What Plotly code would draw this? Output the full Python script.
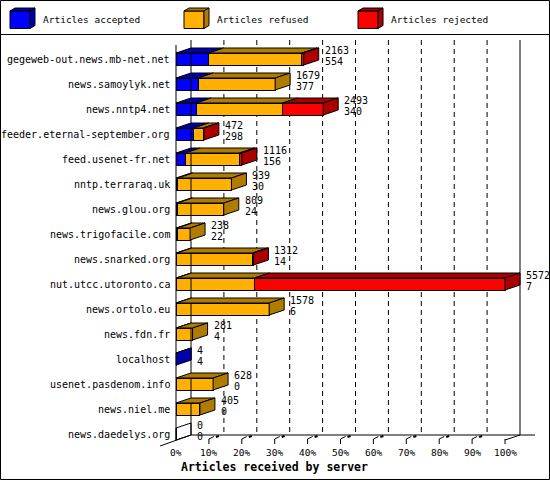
import plotly.graph_objects as go

# servers, top to bottom
servers = ['gegeweb-out.news.mb-net.net', 'news.samoylyk.net', 'news.nntp4.net',
           'feeder.eternal-september.org', 'feed.usenet-fr.net', 'nntp.terraraq.uk',
           'news.glou.org', 'news.trigofacile.com', 'news.snarked.org',
           'nut.utcc.utoronto.ca', 'news.ortolo.eu', 'news.fdn.fr', 'localhost',
           'usenet.pasdenom.info', 'news.niel.me', 'news.daedelys.org']
offered = [2163, 1679, 2493, 472, 1116, 939, 809, 238, 1312, 5572, 1578, 281, 4, 628, 405, 0]
accepted = [554, 377, 340, 298, 156, 30, 24, 22, 14, 7, 6, 4, 4, 0, 0, 0]
refused = [1579, 1302, 1467, 165, 920, 909, 785, 216, 1283, 1320, 1572, 277, 0, 628, 405, 0]
rejected = [30, 0, 686, 9, 40, 0, 0, 0, 15, 4245, 0, 0, 0, 0, 0, 0]
ticks = [0, 10, 20, 30, 40, 50, 60, 70, 80, 90, 100]

series = [('Articles accepted', accepted, '#0000ff', '#0000aa'),
          ('Articles refused', refused, '#ffb000', '#b07c00'),
          ('Articles rejected', rejected, '#ff0000', '#aa0000')]

W, H = 550, 480
FONT = 'DejaVu Sans Mono'

# pixel geometry of the plotting box (front 0% at x=176, 100% at x=505, 25px per row)
PX0, PXU = 176, 3.29
PY0, PYU = 59, 25.0
DX, DY = 15 / PXU, -5 / PYU      # 3d depth
HALF = 6 / PYU                   # half bar height

def xd(p): return (p - PX0) / PXU
def yd(p): return (p - PY0) / PYU
def px(p): return p / W
def py(p): return 1 - p / H

scale = 100.0 / max(offered)
rows = list(range(len(servers)))

fig = go.Figure()
for name, vals, col, dark in series:
    fig.add_trace(go.Bar(x=[v * scale for v in vals], y=rows, orientation='h',
                         width=2 * HALF, name=name, showlegend=False,
                         marker=dict(color=col, line=dict(color='black', width=1))))

def poly(pts):
    return 'M ' + ' L '.join(f'{a:.4f},{b:.4f}' for a, b in pts) + ' Z'

shapes = []
line = dict(color='black', width=1)

# walls, grid and floor
top_b, floor_b = yd(40), yd(435)
top_f, floor_f = yd(45), yd(440)
shapes.append(dict(type='line', x0=0, x1=0, y0=top_f, y1=floor_f, line=line))
shapes.append(dict(type='line', x0=DX, x1=DX, y0=top_b, y1=floor_b, line=line))
shapes.append(dict(type='line', x0=100 + DX, x1=100 + DX, y0=top_b, y1=floor_b, line=line))
for t in ticks[1:-1]:
    shapes.append(dict(type='line', x0=t + DX, x1=t + DX, y0=top_b, y1=floor_b, layer='below',
                       line=dict(color='black', width=1, dash='5px,4px')))
shapes.append(dict(type='line', x0=DX, x1=xd(535), y0=floor_b, y1=floor_b, line=line))
shapes.append(dict(type='line', x0=xd(160), x1=DX, y0=yd(446), y1=floor_b, line=line))
shapes.append(dict(type='line', x0=100, x1=100 + DX, y0=floor_f, y1=floor_b, line=line))
for t in ticks[1:]:
    xf = PX0 + t * PXU
    shapes.append(dict(type='line', x0=t, x1=t, y0=yd(439), y1=yd(444), line=line))
    if t < 100:
        shapes.append(dict(type='line', x0=t, x1=xd(xf + 5), y0=yd(439), y1=yd(436.5), line=line))
        shapes.append(dict(type='line', x0=xd(xf + 7), x1=xd(xf + 10), y0=yd(437), y1=yd(436),
                           line=dict(color='black', width=2)))

# 3d top and side faces of the bars
for i in rows:
    start = 0.0
    last_dark = None
    for name, vals, col, dark in series:
        v = vals[i] * scale
        if v <= 0:
            continue
        end = start + v
        shapes.append(dict(type='path', path=poly([(start, i - HALF), (end, i - HALF),
                                                    (end + DX, i - HALF + DY), (start + DX, i - HALF + DY)]),
                           fillcolor=dark, line=line))
        start = end
        last_dark = dark
    side = poly([(start, i - HALF), (start + DX, i - HALF + DY),
                 (start + DX, i + HALF + DY), (start, i + HALF)])
    if last_dark is None:
        shapes.append(dict(type='path', path=side, line=line))
    else:
        shapes.append(dict(type='path', path=side, fillcolor=last_dark, line=line))

# frame and legend
shapes.append(dict(type='rect', xref='paper', yref='paper', x0=px(0.5), x1=px(549.5),
                   y0=py(0.5), y1=py(479.5), line=line))
shapes.append(dict(type='line', xref='paper', yref='paper', x0=0, x1=1, y0=py(34.5), y1=py(34.5), line=line))

annotations = []
leg_x = [10, 184, 358]
for (name, vals, col, dark), lx in zip(series, leg_x):
    shapes.append(dict(type='rect', xref='paper', yref='paper', x0=px(lx), x1=px(lx + 20),
                       y0=py(11), y1=py(28.5), fillcolor=col, line=line))
    shapes.append(dict(type='path', xref='paper', yref='paper', fillcolor=dark, line=line,
                       path=poly([(px(lx), py(11)), (px(lx + 20), py(11)),
                                  (px(lx + 25), py(8)), (px(lx + 5), py(8))])))
    shapes.append(dict(type='path', xref='paper', yref='paper', fillcolor=dark, line=line,
                       path=poly([(px(lx + 20), py(11)), (px(lx + 25), py(8)),
                                  (px(lx + 25), py(25.5)), (px(lx + 20), py(28.5))])))
    annotations.append(dict(xref='paper', yref='paper', x=px(lx + 31), y=py(20), text=name,
                            xanchor='left', yanchor='middle', showarrow=False,
                            font=dict(family=FONT, size=9.5, color='black')))

for i, s in enumerate(servers):
    annotations.append(dict(x=0, y=i, text=s, xanchor='right', yanchor='middle', xshift=-4,
                            showarrow=False, font=dict(family=FONT, size=10, color='black')))
    tot = offered[i] * scale
    annotations.append(dict(x=tot, y=i, text=str(offered[i]), xanchor='left', yanchor='middle',
                            xshift=19, yshift=9, showarrow=False,
                            font=dict(family=FONT, size=10, color='black')))
    annotations.append(dict(x=tot, y=i, text=str(accepted[i]), xanchor='left', yanchor='middle',
                            xshift=19, yshift=-2, showarrow=False,
                            font=dict(family=FONT, size=10, color='black')))

for t in ticks:
    annotations.append(dict(x=t, yref='paper', y=py(452), text=f'{t}%', xanchor='center',
                            yanchor='middle', showarrow=False,
                            font=dict(family=FONT, size=9.5, color='black')))
annotations.append(dict(xref='paper', yref='paper', x=px(179), y=py(467),
                        text='<b>Articles received by server</b>', xanchor='left', yanchor='middle',
                        showarrow=False, font=dict(family=FONT, size=11.5, color='black')))

fig.update_layout(
    width=W, height=H, barmode='stack',
    margin=dict(l=0, r=0, t=0, b=0, autoexpand=False),
    paper_bgcolor='white', plot_bgcolor='white',
    xaxis=dict(range=[xd(0), xd(W)], visible=False, fixedrange=True),
    yaxis=dict(range=[yd(H), yd(0)], visible=False, fixedrange=True),
    shapes=shapes, annotations=annotations,
)

# page has a default body margin; drop it so the figure sits at the window corner
fig.write_html('out.html', config={'displayModeBar': False},
               post_script="document.body.style.margin='0';document.body.style.overflow='hidden';")
